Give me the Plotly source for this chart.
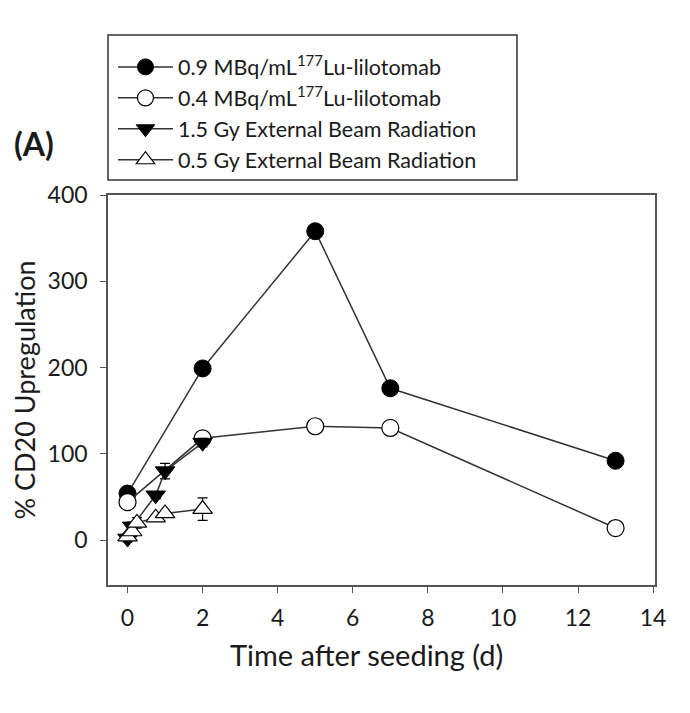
import plotly.graph_objects as go

# Data
t_lu = [0, 2, 5, 7, 13]
lu09 = [54, 199, 358, 176, 92]
lu04 = [44, 118, 132, 130, 14]

t_ebr15 = [0, 0.125, 0.75, 1, 2]
ebr15 = [2, 16, 52, 80, 113]
ebr15_err = [4, 5, 4, 9, 5]

t_ebr05 = [0, 0.125, 0.25, 0.75, 1, 2]
ebr05 = [4, 10, 20, 26, 31, 36]
ebr05_err = [4, 6, 6, 3, 3, 13]

names = ["0.9 MBq/mL<sup>177</sup>Lu-lilotomab",
         "0.4 MBq/mL<sup>177</sup>Lu-lilotomab",
         "1.5 Gy External Beam Radiation",
         "0.5 Gy External Beam Radiation"]

x_ticks = [0, 2, 4, 6, 8, 10, 12, 14]
y_ticks = [0, 100, 200, 300, 400]

FONT = "Lato, Carlito, Calibri, 'Open Sans', sans-serif"
TXT = "#1a1a1a"
LINE = dict(color="#333333", width=1.5)

fig = go.Figure()
fig.add_trace(go.Scatter(x=t_lu, y=lu09, name=names[0], mode="lines+markers",
                         line=LINE,
                         marker=dict(symbol="circle", size=17, color="black",
                                     line=dict(color="black", width=1))))
fig.add_trace(go.Scatter(x=t_lu, y=lu04, name=names[1], mode="lines+markers",
                         line=LINE,
                         marker=dict(symbol="circle", size=17, color="white",
                                     line=dict(color="black", width=1.2))))
fig.add_trace(go.Scatter(x=t_ebr15, y=ebr15, name=names[2], mode="lines+markers",
                         line=LINE,
                         error_y=dict(type="data", array=ebr15_err, color="black",
                                      thickness=1.2, width=5),
                         marker=dict(symbol="triangle-down", size=17, color="black",
                                     line=dict(color="black", width=1))))
fig.add_trace(go.Scatter(x=t_ebr05, y=ebr05, name=names[3], mode="lines+markers",
                         line=LINE,
                         error_y=dict(type="data", array=ebr05_err, color="black",
                                      thickness=1.2, width=5),
                         marker=dict(symbol="triangle-up", size=17, color="white",
                                     line=dict(color="black", width=1.2))))

axis_common = dict(showline=True, linecolor="#555555", linewidth=1.5, mirror=True,
                   ticks="outside", ticklen=6, tickcolor="#555555", tickwidth=1.2,
                   showgrid=False, zeroline=False,
                   tickfont=dict(family=FONT, size=23, color=TXT))

fig.update_xaxes(range=[-0.52, 14.05], tickvals=x_ticks, ticklabelstandoff=6,
                 **axis_common)
fig.update_yaxes(range=[-52, 400], tickvals=y_ticks, ticklabelstandoff=8,
                 title=dict(text="% CD20 Upregulation",
                            font=dict(family=FONT, size=27, color=TXT),
                            standoff=18),
                 **axis_common)

# x-axis title (slightly left of the plot centre, as in the original)
fig.add_annotation(text="Time after seeding (d)", xref="paper", yref="paper",
                   x=0.4717, y=-0.179, xanchor="center", yanchor="middle",
                   showarrow=False, font=dict(family=FONT, size=29, color=TXT))

fig.add_annotation(text="<b>(A)</b>", xref="paper", yref="paper",
                   x=-0.1755, y=1.131, xanchor="left", yanchor="middle",
                   showarrow=False, font=dict(family=FONT, size=32, color=TXT))

# legend frame
fig.add_shape(type="rect", xref="paper", yref="paper",
              x0=0, x1=0.7477, y0=1.0385, y1=1.410,
              line=dict(color="#333333", width=1.5), fillcolor="rgba(0,0,0,0)")

# page body has an 8px margin; the figure is sized/offset to compensate
fig.update_layout(
    width=682, height=705,
    margin=dict(l=100, r=35, t=187, b=128, autoexpand=False),
    paper_bgcolor="white", plot_bgcolor="white",
    font=dict(family=FONT, size=21, color=TXT),
    legend=dict(x=0.0091, y=1.381, xanchor="left", yanchor="top",
                borderwidth=0, bgcolor="rgba(0,0,0,0)",
                font=dict(family=FONT, size=21.5, color=TXT),
                tracegroupgap=0, itemwidth=55),
)

fig.write_html("out.html")
